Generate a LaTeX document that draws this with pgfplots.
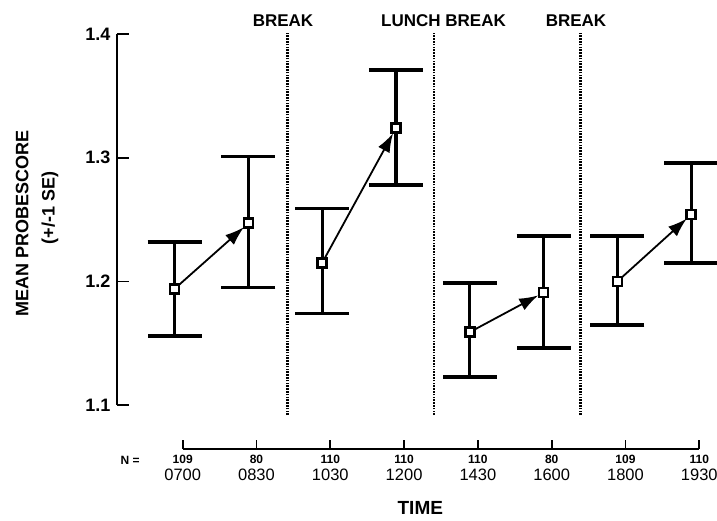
\documentclass[border=0pt]{standalone}
\usepackage{fontspec}
\setmainfont{Liberation Sans}
\usepackage{pgfplots}
\pgfplotsset{compat=1.18}
\usepackage{pgfplotstable}
\usetikzlibrary{arrows.meta}

\pgfplotstableread{
x y ep em
0 1.194 0.038 0.038
1 1.247 0.054 0.052
2 1.215 0.044 0.041
3 1.324 0.047 0.046
4 1.159 0.040 0.036
5 1.191 0.046 0.045
6 1.200 0.037 0.035
7 1.254 0.042 0.039
}\means

\newcommand\NN[2]{{\fontsize{12}{12}\selectfont\bfseries #1}\\[1pt]#2}

\begin{document}
\begin{tikzpicture}
\begin{axis}[
 scale only axis, width=600pt, height=371.1pt,
 xmin=-0.78, xmax=7.35, ymin=1.1, ymax=1.4,
 axis x line=none, axis y line=left,
 y axis line style={-, line width=1.8pt},
 ytick={1.1,1.2,1.3,1.4},
 yticklabel style={font=\fontsize{18}{18}\selectfont\bfseries, xshift=-3pt},
 /pgf/number format/assume math mode=true,
 /pgf/number format/fixed, /pgf/number format/precision=1, /pgf/number format/fixed zerofill,
 tick align=inside, major tick length=12pt, tick style={line width=1.8pt, black},
 clip=false,
 anchor=north west, at={(0,0)},
]
% dotted separators
\addplot[black, line width=2.2pt, dash pattern=on 1.6pt off 1.2pt] coordinates {(1.53,1.092) (1.53,1.4016)};
\addplot[black, line width=2.2pt, dash pattern=on 1.6pt off 1.2pt] coordinates {(3.52,1.092) (3.52,1.4016)};
\addplot[black, line width=2.2pt, dash pattern=on 1.6pt off 1.2pt] coordinates {(5.50,1.092) (5.50,1.4016)};
% error bars
\addplot[draw=none, mark=none,
 error bars/.cd, y dir=both, y explicit,
 error bar style={draw=black, line width=3.2pt},
 error mark options={rotate=90, draw=black, line width=3.8pt, mark size=27pt}]
 table[x=x, y=y, y error plus=ep, y error minus=em]{\means};
% arrows
\addplot[black, line width=1.8pt, -{Latex[length=19pt,width=13pt]}, shorten >=6pt, shorten <=6pt] coordinates {(0,1.194) (1,1.247)};
\addplot[black, line width=1.8pt, -{Latex[length=19pt,width=13pt]}, shorten >=6pt, shorten <=6pt] coordinates {(2,1.215) (3,1.324)};
\addplot[black, line width=1.8pt, -{Latex[length=19pt,width=13pt]}, shorten >=6pt, shorten <=6pt] coordinates {(4,1.159) (5,1.191)};
\addplot[black, line width=1.8pt, -{Latex[length=19pt,width=13pt]}, shorten >=6pt, shorten <=6pt] coordinates {(6,1.200) (7,1.254)};
% markers
\addplot[only marks, mark=square*, mark size=4.5pt, mark options={fill=white, draw=black, line width=2.6pt}] table[x=x, y=y]{\means};
% texts
\node[font=\fontsize{17}{17}\selectfont\bfseries] at (axis cs:1.47,1.411) {BREAK};
\node[font=\fontsize{17}{17}\selectfont\bfseries] at (axis cs:3.645,1.411) {LUNCH BREAK};
\node[font=\fontsize{17}{17}\selectfont\bfseries] at (axis cs:5.44,1.411) {BREAK};
\node[rotate=90, font=\fontsize{18}{18}\selectfont\bfseries] at (axis cs:-2.066,1.2472) {MEAN PROBESCORE};
\node[rotate=90, font=\fontsize{18}{18}\selectfont\bfseries] at (axis cs:-1.687,1.2593) {(+/-1 SE)};
\node[font=\fontsize{12}{12}\selectfont\bfseries] at (axis cs:-0.603,1.0556) {N =};
\node[font=\fontsize{19}{19}\selectfont\bfseries] at (axis cs:3.33,1.0165) {TIME};
\coordinate (xa) at (axis cs:0.11,1.0644);
\end{axis}
\begin{axis}[
 scale only axis, width=516.6pt, height=10pt,
 xmin=0.11, xmax=7.11, ymin=0, ymax=1,
 at={(xa)}, anchor=south west,
 axis x line=bottom, axis y line=none,
 x axis line style={-, line width=1.8pt},
 xtick={0.11,1.11,2.11,3.11,4.11,5.11,6.11,7.11},
 xticklabels={{\NN{109}{0700}},{\NN{80}{0830}},{\NN{110}{1030}},{\NN{110}{1200}},{\NN{110}{1430}},{\NN{80}{1600}},{\NN{109}{1800}},{\NN{110}{1930}}},
 xticklabel style={align=center, font=\fontsize{16.5}{16.5}\selectfont, yshift=-2pt},
 tick align=inside, major tick length=9pt, tick style={line width=1.8pt, black},
 clip=false,
]
\addplot[draw=none] coordinates {(1,0.5)};
\end{axis}
\pgfresetboundingbox
\path[use as bounding box] (-117pt,34pt) rectangle (600pt,-486pt);
\end{tikzpicture}
\end{document}
